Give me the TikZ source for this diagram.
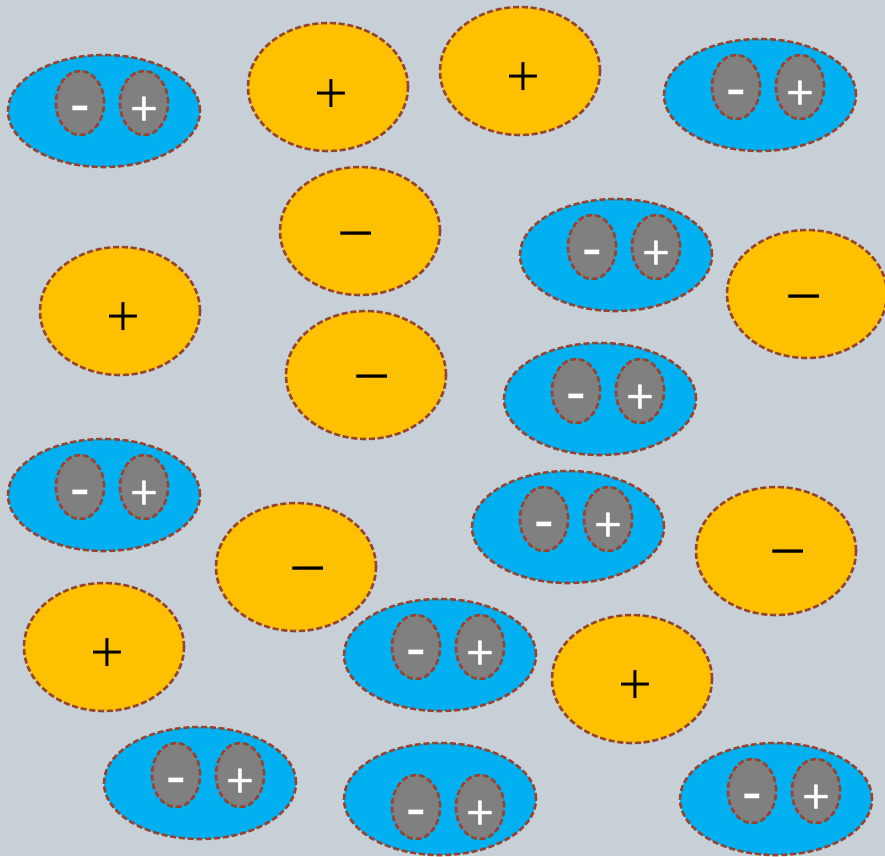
\documentclass[tikz,border=0pt]{standalone}
\usepackage{fontspec}
\newfontfamily\carl{Carlito}
\newfontfamily\lser{Liberation Serif}
\usetikzlibrary{shapes.geometric}
\definecolor{bgc}{RGB}{198,208,214}
\definecolor{bluef}{RGB}{0,176,240}
\definecolor{orangef}{RGB}{255,192,0}
\definecolor{grayf}{RGB}{128,128,128}
\definecolor{edgec}{RGB}{150,68,50}
\tikzset{
  x=1pt, y=-1pt,
  border/.style={draw=edgec, line width=2.6pt, dash pattern=on 6pt off 2.8pt},
  molblue/.style={ellipse, border, fill=bluef, minimum width=192pt, minimum height=112pt, inner sep=0pt, outer sep=0pt},
  ion/.style={ellipse, border, fill=orangef, minimum width=160pt, minimum height=128pt, inner sep=0pt, outer sep=0pt},
  pole/.style={ellipse, border, fill=grayf, minimum width=48pt, minimum height=64pt, inner sep=0pt, outer sep=0pt},
  wplus/.style={inner sep=0pt, text=white, font=\carl\fontsize{52}{52}\selectfont},
  wminus/.style={inner sep=0pt, text=white, font=\carl\fontsize{64}{64}\selectfont},
  bplus/.style={inner sep=0pt, text=black, font=\lser\fontsize{60}{60}\selectfont},
  bminus/.style={inner sep=0pt, text=black, font=\lser\fontsize{66}{66}\selectfont},
}
\begin{document}
\begin{tikzpicture}
\fill[bgc] (0,0) rectangle (885,856);
\useasboundingbox (0,0) rectangle (885,856);
\clip (0,0) rectangle (885,856);
% orange ions
\node[ion] (o1) at (328,87) {};
\node[bplus] (s1) at (331,97) {+};
\node[ion] (o2) at (520,71) {};
\node[bplus] (s2) at (523,80) {+};
\node[ion] (o3) at (360,231) {};
\node[bminus] (s3) at (356.5,243.3) {−};
\node[ion] (o4) at (120,311) {};
\node[bplus] (s4) at (123,320) {+};
\node[ion] (o5) at (807,294) {};
\node[bminus] (s5) at (804,307) {−};
\node[ion] (o6) at (366,375) {};
\node[bminus] (s6) at (372,387) {−};
\node[ion] (o7) at (296,567) {};
\node[bminus] (s7) at (308,579) {−};
\node[ion] (o8) at (776,551) {};
\node[bminus] (s8) at (788,562) {−};
\node[ion] (o9) at (104,647) {};
\node[bplus] (s9) at (107,656) {+};
\node[ion] (o10) at (632,679) {};
\node[bplus] (s10) at (635,688) {+};
% dipoles
\foreach \n/\cx/\cy/\dy in {b1/104/111/-8, b2/760/95/-8, b3/616/255/-8, b4/600/399/-8, b5/104/495/-8, b6/568/527/-8, b7/440/655/-8, b8/200/783/-8, b9/440/799/8, b10/776/799/-8}{
  \node[molblue] (\n) at (\cx,\cy) {};
  \node[pole] (\n n) at (\cx-24,\cy+\dy) {};
  \node[pole] (\n p) at (\cx+40,\cy+\dy) {};
  \node[wminus] (\n nt) at (\cx-24,\cy+\dy+13.2) {-};
  \node[wplus] (\n pt) at (\cx+40,\cy+\dy+8.5) {+};
}
\end{tikzpicture}
\end{document}
